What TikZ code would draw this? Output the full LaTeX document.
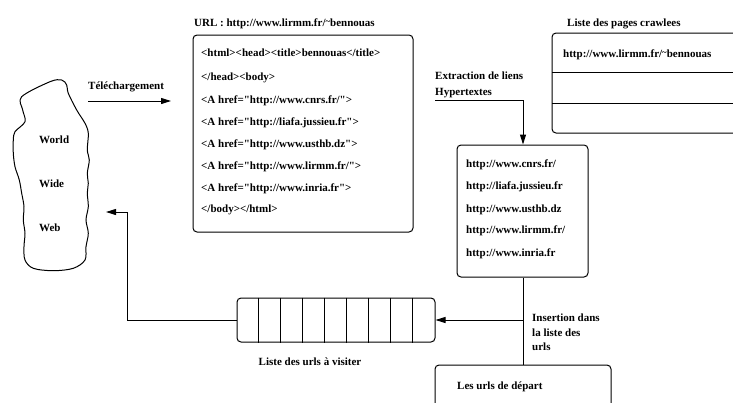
\documentclass[tikz,border=0pt]{standalone}
\usepackage{fontspec}
\setmainfont{Liberation Serif}[Ligatures=TeXOff]
\usetikzlibrary{arrows.meta,calc}
\newcommand{\tld}{\raisebox{0.25ex}{\scalebox{0.8}{\symbol{126}}}}
\begin{document}
\begin{tikzpicture}[x=1pt,y=-1pt,
  lbl/.style={font=\bfseries\fontsize{11}{13}\selectfont, inner sep=0pt, anchor=base west},
  clbl/.style={font=\bfseries\fontsize{11}{13}\selectfont, inner sep=0pt, anchor=base},
  rbox/.style={draw, line width=1pt, rounded corners=4pt, inner sep=0pt},
  conn/.style={line width=1pt},
  arr/.style={line width=1pt, -{Triangle[length=10pt,width=6pt]}}]
\useasboundingbox (0,0) rectangle (733,402);
\clip (0,0) rectangle (733,402);
% cloud
\draw[line width=1pt] plot[smooth cycle, tension=0.55] coordinates {
 (21.7,96.7) (50,81.7) (61.7,80) (66.7,85) (68.3,93.3) (76.7,110) (85,123.3)
 (88.3,133.3) (87.3,150) (89.3,160) (87.3,173.3) (88.3,183.3) (87.3,193.3)
 (88.3,206.7) (86,220) (88.3,233.3) (86,246.7) (85,260) (73.3,268.3)
 (53.3,270.7) (33.3,268.3) (25,260) (24,246.7) (25,233.3) (23.3,220) (24,206.7)
 (21.7,193.3) (19.3,180) (15,166.7) (13.3,153.3) (13.3,140) (15,131.7)
 (25,121.7) (22.7,110)};
\node[lbl] (world) at (39,143) {World};
\node[lbl] (wide) at (39,187) {Wide};
\node[lbl] (web) at (39,231) {Web};
% telechargement
\node[lbl] (telech) at (88,89) {Téléchargement};
\coordinate (tA) at (88,101);
\coordinate (tB) at (171,101);
\draw[arr] (tA) -- (tB);
% html box
\node[lbl] (urltitle) at (194,26) {URL : http://www.lirmm.fr/\tld bennouas};
\node[rbox, minimum width=220pt, minimum height=197pt] (html) at (303,133.5) {};
\node[lbl] (h1) at (201,56) {<html><head><title>bennouas</title>};
\node[lbl] (h2) at (201,80) {</head><body>};
\node[lbl] (h3) at (201,103) {<A href="http://www.cnrs.fr/">};
\node[lbl] (h4) at (201,125) {<A href="http://liafa.jussieu.fr">};
\node[lbl] (h5) at (201,147) {<A href="http://www.usthb.dz">};
\node[lbl] (h6) at (201,169) {<A href="http://www.lirmm.fr/">};
\node[lbl] (h7) at (201,191) {<A href="http://www.inria.fr">};
\node[lbl] (h8) at (201,212) {</body></html>};
% crawled pages
\node[lbl] (crawltitle) at (567,26) {Liste des pages crawlees};
\node[rbox, minimum width=200pt, minimum height=100pt] (crawl) at (652,83) {};
\coordinate (cl1) at (552,72);
\coordinate (cr1) at (752,72);
\coordinate (cl2) at (552,103);
\coordinate (cr2) at (752,103);
\draw[conn] (cl1) -- (cr1) (cl2) -- (cr2);
\node[lbl] (crawl1) at (563,57) {http://www.lirmm.fr/\tld bennouas};
% extraction
\node[lbl] (extr1) at (435,79) {Extraction de liens};
\node[lbl] (extr2) at (435,95) {Hypertextes};
% url list box
\node[rbox, minimum width=131pt, minimum height=132pt] (links) at (522.5,211) {};
\coordinate (eA) at (435,100);
\coordinate (eB) at (523,100);
\draw[arr] (eA) -- (eB) -- (links.north -| eB);
\node[lbl] (l1) at (466,167) {http://www.cnrs.fr/};
\node[lbl] (l2) at (466,189) {http://liafa.jussieu.fr};
\node[lbl] (l3) at (466,212) {http://www.usthb.dz};
\node[lbl] (l4) at (466,233) {http://www.lirmm.fr/};
\node[lbl] (l5) at (466,256) {http://www.inria.fr};
% bottom box
\node[rbox, minimum width=176pt, minimum height=60pt] (start) at (523,395) {};
\node[lbl] (startlbl) at (457,389) {Les urls de départ};
\draw[conn] (links.south -| eB) -- (start.north -| eB);
% queue
\node[rbox, minimum width=198pt, minimum height=44pt] (queue) at (336,320) {};
\foreach \i in {1,...,8} {
  \draw[line width=1pt] ($(queue.north west)+(22*\i,0)$) -- ($(queue.south west)+(22*\i,0)$);
}
\node[clbl] (queuelbl) at (310,365) {Liste des urls à visiter};
\coordinate (iA) at (523,320);
\draw[arr] (iA) -- (queue.east);
\node[lbl] (ins1) at (532,321) {Insertion dans};
\node[lbl] (ins2) at (532,336) {la liste des};
\node[lbl] (ins3) at (532,350) {urls};
% return
\coordinate (rA) at (127,320);
\coordinate (rB) at (127,212);
\coordinate (rC) at (106,212);
\draw[arr] (queue.west) -- (rA) -- (rB) -- (rC);
\end{tikzpicture}
\end{document}
